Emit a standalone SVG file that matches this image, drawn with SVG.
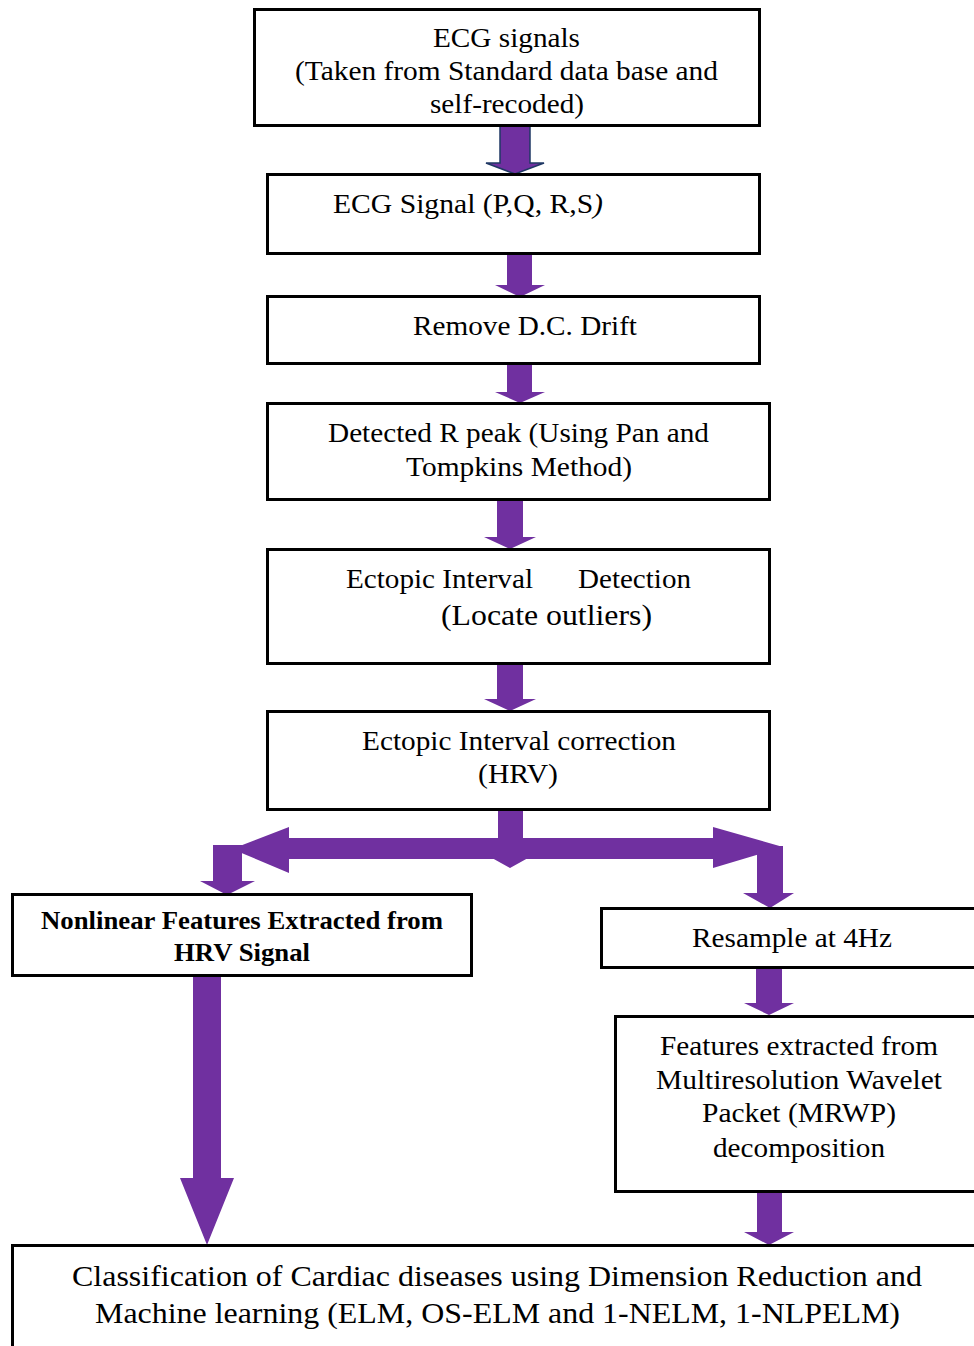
<svg xmlns="http://www.w3.org/2000/svg" width="974" height="1346" viewBox="0 0 974 1346">
<style>
.box{fill:#fff;stroke:#000;stroke-width:3}
.t{font-family:"Liberation Serif","Times New Roman",serif;font-size:27px;fill:#000}
.c{text-anchor:middle}
.b{font-weight:bold;font-size:25px}
.l{font-size:29px}
.arr{fill:#7030A0}
</style>
<rect width="974" height="1346" fill="#fff"/>
<g id="connectors">
  <polygon class="arr" stroke="#1F3864" stroke-width="1.5" points="500,126 530,126 530,163 544,163 515,174 486,163 500,163"/>
  <polygon class="arr" points="507,254 532,254 532,285 545,285 520,297 495,285 507,285"/>
  <polygon class="arr" points="507,364 532,364 532,392 545,392 520,403 495,392 507,392"/>
  <polygon class="arr" points="497,500 523,500 523,537 536,537 510,549 484,537 497,537"/>
  <polygon class="arr" points="497,664 523,664 523,699 536,699 510,711 484,699 497,699"/>
  <polygon class="arr" points="498,810 523,810 523,858 528,858 510,868 492,858 498,858"/>
  <polygon class="arr" points="289,838 713,838 713,827 783,847 713,868 713,859 289,859 289,873 232,849 289,827"/>
  <polygon class="arr" points="213,845 242,845 242,881 255,881 227,895 200,881 213,881"/>
  <polygon class="arr" points="757,846 783,846 783,893 794,893 770,908 743,893 757,893"/>
  <polygon class="arr" points="193,976 221,976 221,1178 234,1178 207,1245 180,1178 193,1178"/>
  <polygon class="arr" points="756,968 782,968 782,1003 794,1003 769,1015 744,1003 756,1003"/>
  <polygon class="arr" points="757,1192 782,1192 782,1232 794,1232 769,1245 744,1232 757,1232"/>
</g>
<g id="n1">
  <rect class="box" x="254.5" y="9.5" width="505" height="116"/>
  <text class="t" x="433" y="47" textLength="147" lengthAdjust="spacingAndGlyphs">ECG signals</text>
  <text class="t" x="295" y="80" textLength="423" lengthAdjust="spacingAndGlyphs">(Taken from Standard data base and</text>
  <text class="t" x="430" y="113" textLength="154" lengthAdjust="spacingAndGlyphs">self-recoded)</text>
</g>
<g id="n2">
  <rect class="box" x="267.5" y="174.5" width="492" height="79"/>
  <text class="t" x="333" y="213" textLength="270" lengthAdjust="spacingAndGlyphs">ECG Signal (P,Q, R,S<tspan font-style="italic">)</tspan></text>
</g>
<g id="n3">
  <rect class="box" x="267.5" y="296.5" width="492" height="67"/>
  <text class="t" x="413" y="335" textLength="224" lengthAdjust="spacingAndGlyphs">Remove D.C. Drift</text>
</g>
<g id="n4">
  <rect class="box" x="267.5" y="403.5" width="502" height="96"/>
  <text class="t" x="328" y="442" textLength="381" lengthAdjust="spacingAndGlyphs">Detected R peak (Using Pan and</text>
  <text class="t" x="406" y="476" textLength="226" lengthAdjust="spacingAndGlyphs">Tompkins Method)</text>
</g>
<g id="n5">
  <rect class="box" x="267.5" y="549.5" width="502" height="114"/>
  <text class="t" x="346" y="588" textLength="187" lengthAdjust="spacingAndGlyphs">Ectopic Interval</text>
  <text class="t" x="578" y="588" textLength="113" lengthAdjust="spacingAndGlyphs">Detection</text>
  <text class="t l" x="441" y="625" textLength="211" lengthAdjust="spacingAndGlyphs">(Locate outliers)</text>
</g>
<g id="n6">
  <rect class="box" x="267.5" y="711.5" width="502" height="98"/>
  <text class="t" x="362" y="750" textLength="314" lengthAdjust="spacingAndGlyphs">Ectopic Interval correction</text>
  <text class="t" x="478" y="783" textLength="80" lengthAdjust="spacingAndGlyphs">(HRV)</text>
</g>
<g id="n7">
  <rect class="box" x="12.5" y="894.5" width="459" height="81"/>
  <text class="t b" x="41" y="929" textLength="402" lengthAdjust="spacingAndGlyphs">Nonlinear Features Extracted from</text>
  <text class="t b" x="174" y="961" textLength="136" lengthAdjust="spacingAndGlyphs">HRV Signal</text>
</g>
<g id="n8">
  <rect class="box" x="601.5" y="908.5" width="390" height="59"/>
  <text class="t" x="692" y="947" textLength="200" lengthAdjust="spacingAndGlyphs">Resample at 4Hz</text>
</g>
<g id="n9">
  <rect class="box" x="615.5" y="1016.5" width="376" height="175"/>
  <text class="t" x="660" y="1055" textLength="278" lengthAdjust="spacingAndGlyphs">Features extracted from</text>
  <text class="t" x="656" y="1089" textLength="286" lengthAdjust="spacingAndGlyphs">Multiresolution Wavelet</text>
  <text class="t" x="702" y="1122" textLength="194" lengthAdjust="spacingAndGlyphs">Packet (MRWP)</text>
  <text class="t" x="713" y="1157" textLength="172" lengthAdjust="spacingAndGlyphs">decomposition</text>
</g>
<g id="n10">
  <rect class="box" x="12.5" y="1245.5" width="980" height="120"/>
  <text class="t l" x="72" y="1286" textLength="850" lengthAdjust="spacingAndGlyphs">Classification of Cardiac diseases using Dimension Reduction and</text>
  <text class="t l" x="95" y="1323" textLength="805" lengthAdjust="spacingAndGlyphs">Machine learning (ELM, OS-ELM and 1-NELM, 1-NLPELM)</text>
</g>
</svg>
